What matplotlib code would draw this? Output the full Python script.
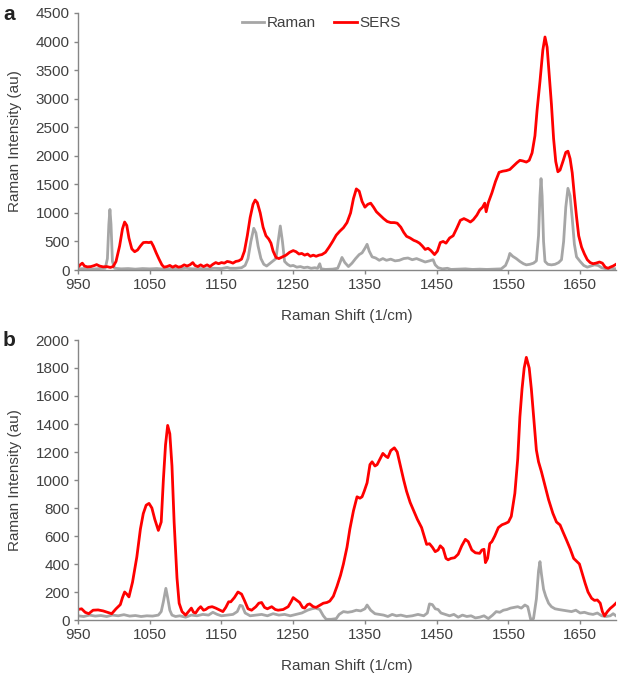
import matplotlib
matplotlib.use("Agg")
import matplotlib.pyplot as plt

plt.rcParams['font.family'] = ['Liberation Sans', 'DejaVu Sans']

# ---------------- Panel a data ----------------
a_sers_x = [950, 953, 956, 959, 963, 968, 972, 976, 980, 985, 990, 995, 999, 1003, 1008, 1012, 1015, 1018, 1021, 1025,
            1029, 1033, 1037, 1041, 1045, 1049, 1052, 1055, 1059, 1063, 1067, 1070, 1074, 1078, 1082, 1086, 1090, 1094,
            1098, 1102, 1106, 1110, 1113, 1117, 1121, 1125, 1130, 1134, 1138, 1142, 1146, 1150, 1154, 1158, 1162, 1166,
            1170, 1174, 1178, 1182, 1186, 1190, 1194, 1197, 1200, 1204, 1208, 1212, 1216, 1219, 1222, 1226, 1230, 1235,
            1240, 1245, 1250, 1254, 1258, 1262, 1266, 1270, 1274, 1278, 1282, 1286, 1290, 1295, 1300, 1305, 1310, 1315,
            1320, 1325, 1330, 1334, 1338, 1342, 1346, 1350, 1354, 1358, 1362, 1366, 1371, 1376, 1381, 1386, 1391, 1395,
            1400, 1404, 1408, 1413, 1418, 1422, 1426, 1430, 1434, 1438, 1442, 1447, 1451, 1455, 1459, 1463, 1468, 1473,
            1478, 1483, 1488, 1493, 1497, 1501, 1506, 1510, 1514, 1517, 1519, 1522, 1527, 1532, 1537, 1542, 1547, 1552,
            1557, 1562, 1566, 1570, 1575, 1579, 1583, 1587, 1590, 1594, 1598, 1601, 1604, 1607, 1610, 1613, 1616, 1619,
            1622, 1626, 1630, 1633, 1636, 1639, 1642, 1645, 1648, 1652, 1656, 1660, 1664, 1668, 1672, 1677, 1681, 1685,
            1689, 1692, 1696, 1700]
a_sers_y = [50, 90, 120, 70, 55, 60, 75, 95, 70, 55, 60, 45, 60, 150, 420, 720, 840, 780, 560, 370,
            320, 350, 420, 480, 485, 480, 490, 420, 300, 190, 90, 50, 60, 80, 50, 75, 50, 60,
            90, 70, 90, 130, 80, 60, 90, 60, 90, 60, 100, 130, 110, 130, 120, 150, 140, 120,
            150, 160, 190, 330, 600, 920, 1150, 1225, 1180, 1000, 750, 600, 540, 470, 330, 220, 200, 230,
            260, 310, 340, 320, 280, 290, 260, 280, 240, 260, 240, 260, 270, 310, 400, 500, 610, 680,
            740, 830, 1000, 1250, 1420, 1380, 1200, 1100, 1150, 1170, 1100, 1020, 960, 900, 850, 830, 830, 820,
            750, 660, 590, 560, 520, 500, 470, 420, 360, 380, 340, 270, 330, 480, 500, 470, 560, 600,
            730, 870, 900, 870, 840, 880, 960, 1050, 1100, 1170, 1020, 1180, 1350, 1550, 1710, 1730, 1740, 1760,
            1820, 1880, 1920, 1910, 1890, 1920, 2050, 2350, 2800, 3300, 3850, 4080, 3900, 3400, 2900, 2300, 1900, 1720,
            1750, 1900, 2060, 2080, 1950, 1700, 1300, 930, 600, 400, 280, 180, 130, 110, 120, 140, 120, 50,
            30, 50, 70, 100]

a_raman_x = [950, 960, 970, 980, 988, 991, 993, 994.5, 996, 998, 1001, 1010, 1020, 1030, 1040, 1050, 1060, 1070, 1080,
             1090, 1100, 1110, 1120, 1130, 1140, 1150, 1158, 1162, 1170, 1178, 1183, 1187, 1191, 1195, 1198, 1201, 1205,
             1209, 1213, 1218, 1222, 1226, 1229, 1232, 1235, 1238, 1242, 1246, 1250, 1255, 1260, 1265, 1270, 1275, 1280,
             1284, 1287, 1289, 1295, 1305, 1312, 1315, 1318, 1322, 1327, 1332, 1337, 1342, 1346, 1350, 1353, 1356, 1360,
             1365, 1370, 1375, 1380, 1386, 1392, 1398, 1404, 1410, 1416, 1422, 1428, 1434, 1440, 1445, 1448, 1452, 1458,
             1465, 1470, 1480, 1490, 1500, 1510, 1520, 1530, 1540, 1546, 1550, 1552, 1556, 1561, 1566, 1571, 1575, 1580,
             1585, 1589, 1592, 1594, 1595.5, 1597, 1599, 1601, 1605, 1610, 1615, 1620, 1624, 1627, 1630, 1633, 1636, 1639,
             1642, 1645, 1650, 1655, 1660, 1665, 1670, 1675, 1680, 1687, 1693, 1700]
a_raman_y = [20, 25, 15, 25, 30, 200, 800, 1060, 800, 150, 30, 20, 25, 15, 25, 20, 25, 15, 25,
             20, 30, 20, 25, 20, 30, 25, 45, 30, 30, 40, 80, 200, 500, 730, 650, 420, 200,
             100, 70, 120, 160, 200, 500, 770, 500, 150, 100, 70, 80, 50, 60, 40, 50, 30, 40,
             30, 110, 20, 10, 15, 30, 120, 220, 130, 60, 120, 200, 270, 300, 380, 450, 330, 230,
             210, 170, 200, 170, 190, 160, 170, 200, 210, 180, 200, 170, 140, 160, 180, 90, 40, 20,
             30, 10, 15, 20, 10, 15, 10, 15, 20, 80, 200, 290, 240, 200, 150, 110, 90, 100,
             120, 160, 600, 1300, 1600, 1300, 500, 150, 100, 90, 100, 130, 180, 500, 1100, 1430, 1300, 900,
             450, 230, 150, 80, 50, 70, 90, 80, 40, 20, 30, 20]

# ---------------- Panel b data ----------------
b_sers_x = [950, 955, 960, 965, 971, 978, 985, 991, 997, 1003, 1009, 1012, 1015, 1018, 1021, 1026, 1032, 1037, 1041,
            1045, 1049, 1053, 1057, 1062, 1066, 1069, 1072, 1075, 1078, 1081, 1084, 1088, 1091, 1095, 1100, 1104, 1108,
            1111, 1114, 1118, 1121, 1125, 1128, 1132, 1137, 1142, 1148, 1152, 1156, 1160, 1163, 1168, 1173, 1178, 1182,
            1187, 1192, 1198, 1202, 1206, 1210, 1214, 1220, 1225, 1229, 1236, 1243, 1247, 1250, 1255, 1259, 1263, 1266,
            1270, 1273, 1278, 1282, 1287, 1292, 1297, 1301, 1306, 1311, 1316, 1320, 1325, 1329, 1334, 1339, 1343, 1346,
            1349, 1353, 1357, 1360, 1364, 1367, 1371, 1375, 1379, 1382, 1386, 1391, 1395, 1399, 1404, 1408, 1413, 1418,
            1423, 1429, 1433, 1436, 1440, 1444, 1448, 1452, 1455, 1459, 1463, 1466, 1470, 1475, 1480, 1485, 1490, 1494,
            1499, 1504, 1510, 1513, 1516, 1518, 1521, 1524, 1527, 1531, 1536, 1541, 1546, 1550, 1554, 1559, 1563, 1566,
            1569, 1572, 1575, 1579, 1582, 1586, 1589, 1592, 1596, 1601, 1606, 1612, 1617, 1622, 1626, 1631, 1636, 1641,
            1645, 1649, 1653, 1657, 1661, 1666, 1670, 1674, 1678, 1681, 1684, 1688, 1692, 1696, 1700]
b_sers_y = [75, 80, 55, 45, 70, 72, 65, 55, 45, 80, 110, 160, 200, 185, 165, 270, 450, 650, 760,
            820, 833, 800, 720, 640, 700, 1000, 1250, 1390, 1330, 1100, 700, 300, 120, 60, 35, 60, 85,
            55, 50, 80, 95, 70, 75, 90, 95, 85, 70, 60, 90, 130, 130, 160, 200, 185, 140,
            80, 70, 95, 120, 125, 90, 80, 95, 75, 70, 75, 95, 130, 160, 140, 125, 90, 85,
            110, 115, 95, 90, 105, 120, 125, 135, 170, 240, 320, 400, 520, 650, 780, 880, 870, 880,
            920, 980, 1110, 1130, 1100, 1110, 1150, 1190, 1170, 1160, 1210, 1230, 1200, 1110, 1000, 920, 840, 780,
            720, 660, 590, 540, 545, 520, 488, 500, 530, 510, 440, 430, 440, 445, 470, 530, 576, 560,
            500, 480, 476, 500, 505, 410, 440, 545, 560, 600, 660, 680, 690, 700, 740, 905, 1150, 1450,
            1650, 1800, 1876, 1800, 1650, 1400, 1214, 1130, 1060, 960, 860, 762, 700, 679, 630, 571, 510, 440,
            420, 400, 330, 262, 200, 155, 140, 143, 120, 60, 29, 60, 83, 100, 120]

b_raman_x = [950, 958, 966, 974, 982, 990, 998, 1006, 1014, 1022, 1030, 1038, 1046, 1054, 1062, 1066, 1069, 1072.5, 1075,
             1078, 1081, 1086, 1092, 1100, 1108, 1116, 1124, 1132, 1138, 1144, 1150, 1158, 1166, 1172, 1176, 1179, 1183,
             1190, 1198, 1206, 1214, 1222, 1230, 1238, 1246, 1254, 1262, 1270, 1276, 1281, 1287, 1292, 1296, 1303, 1310,
             1314, 1320, 1326, 1332, 1338, 1344, 1350, 1353, 1358, 1364, 1370, 1376, 1382, 1388, 1394, 1400, 1408, 1416,
             1424, 1432, 1437, 1440, 1444, 1448, 1452, 1456, 1462, 1468, 1474, 1480, 1486, 1492, 1498, 1504, 1510, 1516,
             1522, 1528, 1533, 1538, 1543, 1548, 1553, 1558, 1563, 1568, 1573, 1577, 1581, 1585, 1589, 1592, 1594, 1596,
             1599, 1602, 1606, 1610, 1615, 1620, 1626, 1632, 1638, 1644, 1650, 1656, 1662, 1668, 1674, 1680, 1686, 1692,
             1696, 1700]
b_raman_y = [30, 25, 35, 28, 32, 25, 35, 30, 38, 28, 32, 25, 30, 28, 35, 60, 130, 226, 160,
             70, 35, 25, 30, 20, 35, 30, 40, 35, 55, 40, 30, 35, 40, 60, 105, 100, 50,
             30, 35, 40, 30, 45, 35, 40, 30, 40, 50, 70, 80, 85, 75, 30, 5, 5, 10,
             40, 60, 55, 60, 70, 65, 80, 107, 70, 45, 40, 35, 25, 40, 30, 35, 25, 30,
             40, 30, 50, 115, 110, 80, 75, 50, 40, 30, 40, 20, 35, 25, 30, 15, 20, 30,
             10, 35, 60, 55, 70, 75, 85, 90, 95, 85, 107, 95, 5, 10, 150, 350, 417, 330,
             220, 170, 120, 95, 80, 75, 70, 65, 60, 70, 50, 55, 45, 40, 50, 30, 25, 30,
             45, 30]

# ---------------- figure ----------------
RED = '#FF0000'
GRAY = '#A6A6A6'
TXT = '#404040'
AX = '#868686'
FS = 11

fig = plt.figure(figsize=(6.21, 6.75), dpi=100)
axA = fig.add_axes([78/621, 1-270/675, (616-78)/621, (270-13)/675])
axB = fig.add_axes([78/621, 1-620/675, (616-78)/621, (620-340)/675])

def style(ax, ymax, ystep):
    ax.set_xlim(950, 1700)
    ax.set_ylim(0, ymax)
    ax.set_xticks(range(950, 1700, 100))
    ax.set_yticks(range(0, ymax + 1, ystep))
    for s in ['top', 'right']:
        ax.spines[s].set_visible(False)
    for s in ['left', 'bottom']:
        ax.spines[s].set_color(AX)
        ax.spines[s].set_linewidth(1.0)
    ax.tick_params(axis='both', direction='out', length=3, width=1, color=AX,
                   labelcolor=TXT, labelsize=FS, pad=3)
    ax.set_xlabel('Raman Shift (1/cm)', fontsize=FS, color=TXT, labelpad=12)
    ax.set_ylabel('Raman Intensity (au)', fontsize=FS, color=TXT, labelpad=10)

axA.plot(a_raman_x, a_raman_y, color=GRAY, lw=2.0, label='Raman', solid_joinstyle='round')
axA.plot(a_sers_x, a_sers_y, color=RED, lw=2.0, label='SERS', solid_joinstyle='round')
style(axA, 4500, 500)
leg = axA.legend(loc='upper center', bbox_to_anchor=(0.452, 1.04), ncol=2, frameon=False,
                 fontsize=FS, handlelength=1.5, handletextpad=0.15, columnspacing=1.2)
for t in leg.get_texts():
    t.set_color(TXT)

axB.plot(b_raman_x, b_raman_y, color=GRAY, lw=2.0, solid_joinstyle='round')
axB.plot(b_sers_x, b_sers_y, color=RED, lw=2.0, solid_joinstyle='round')
style(axB, 2000, 200)

fig.text(3/621, 1-14/675, 'a', fontsize=15, fontweight='bold', color='#222222', va='center', ha='left')
fig.text(3/621, 1-341/675, 'b', fontsize=15, fontweight='bold', color='#222222', va='center', ha='left')

fig.savefig('out.png', dpi=100)
